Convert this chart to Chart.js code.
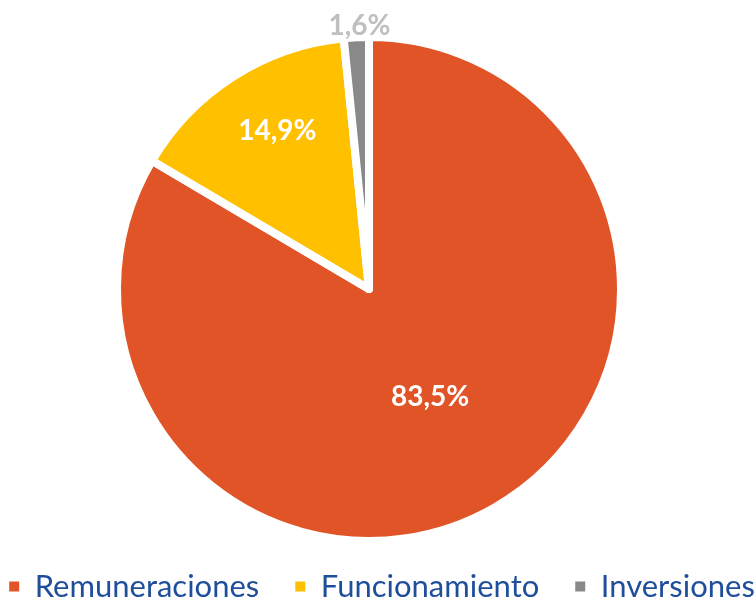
<!DOCTYPE html>
<html lang="es">
<head>
    <meta charset="UTF-8">
    <title>Distribución del gasto</title>
    <script src="https://cdn.jsdelivr.net/npm/chart.js"></script>
    <style>
        html, body {
            margin: 0;
            padding: 0;
            background: #ffffff;
        }
        .chart-container {
            width: 756px;
            height: 600px;
        }
    </style>
</head>
<body>
    <div class="chart-container">
        <canvas id="pieChart"></canvas>
    </div>

    <script>
        // data
        const categories = ['Remuneraciones', 'Funcionamiento', 'Inversiones'];
        const shares = [83.5, 14.9, 1.6];
        const shareLabels = ['83,5%', '14,9%', '1,6%'];

        const sliceColors = ['#E05427', '#FFC000', '#898989'];
        const labelColors = ['#FFFFFF', '#FFFFFF', '#BFBFBF'];
        const labelDistance = [0.49, 0.73, 1.05]; // fraction of the radius
        const labelTurn = [0, 2.7, 0.8];          // degrees past the slice middle

        const legendFontSize = 31;
        const legendGap = 36;
        const legendBoxHeight = 65;
        const legendShift = 13;

        // values drawn on / next to each slice
        const sliceLabels = {
            id: 'sliceLabels',
            afterDatasetsDraw(chart) {
                const ctx = chart.ctx;
                const size = 28;
                ctx.save();
                ctx.font = 'bold ' + size + 'px Lato';
                ctx.textAlign = 'center';
                ctx.textBaseline = 'alphabetic';
                chart.getDatasetMeta(0).data.forEach((arc, i) => {
                    const p = arc.getProps(['x', 'y', 'startAngle', 'endAngle', 'outerRadius'], true);
                    const mid = (p.startAngle + p.endAngle) / 2 + labelTurn[i] * Math.PI / 180;
                    const r = p.outerRadius * labelDistance[i];
                    const x = p.x + Math.cos(mid) * r;
                    const y = p.y + Math.sin(mid) * r;
                    ctx.fillStyle = labelColors[i];
                    ctx.fillText(shareLabels[i], x, y + size * 0.358);
                });
                ctx.restore();
            }
        };

        // keep the legend on one row with wide gaps, and a short box
        const legendSpacing = {
            id: 'legendSpacing',
            beforeInit(chart) {
                const legend = chart.legend;
                if (!legend) return;
                const fit = legend.fit;
                legend.fit = function () {
                    const w = this.maxWidth;
                    this.maxWidth = 2000;
                    fit.call(this);
                    this.maxWidth = w;
                    this.width = Math.min(this.width, w);
                    this.height = legendBoxHeight;
                };
            },
            afterLayout(chart) {
                // widen both sides equally so the row is not wrapped while drawing
                chart.legend.left += legendShift - 60;
                chart.legend.right += legendShift + 60;
            }
        };

        const baseLabels = Chart.overrides.doughnut.plugins.legend.labels.generateLabels;

        const ctx = document.getElementById('pieChart').getContext('2d');
        const pieChart = new Chart(ctx, {
            type: 'pie',
            data: {
                labels: categories,
                datasets: [{
                    data: shares,
                    backgroundColor: sliceColors,
                    borderColor: '#FFFFFF',
                    borderWidth: 8,
                    borderJoinStyle: 'round',
                    radius: 252
                }]
            },
            options: {
                responsive: true,
                maintainAspectRatio: false,
                animation: false,
                layout: {
                    padding: { top: 43, right: 18, bottom: 0, left: 0 }
                },
                plugins: {
                    tooltip: { enabled: false },
                    legend: {
                        position: 'bottom',
                        labels: {
                            color: '#1F4E9A',
                            font: { family: 'Lato', size: legendFontSize },
                            boxWidth: 10,
                            boxHeight: 10,
                            padding: legendGap,
                            generateLabels(chart) {
                                return baseLabels(chart).map(item => {
                                    item.lineWidth = 0;
                                    item.strokeStyle = item.fillStyle;
                                    return item;
                                });
                            }
                        }
                    }
                }
            },
            plugins: [sliceLabels, legendSpacing]
        });
    </script>
</body>
</html>
